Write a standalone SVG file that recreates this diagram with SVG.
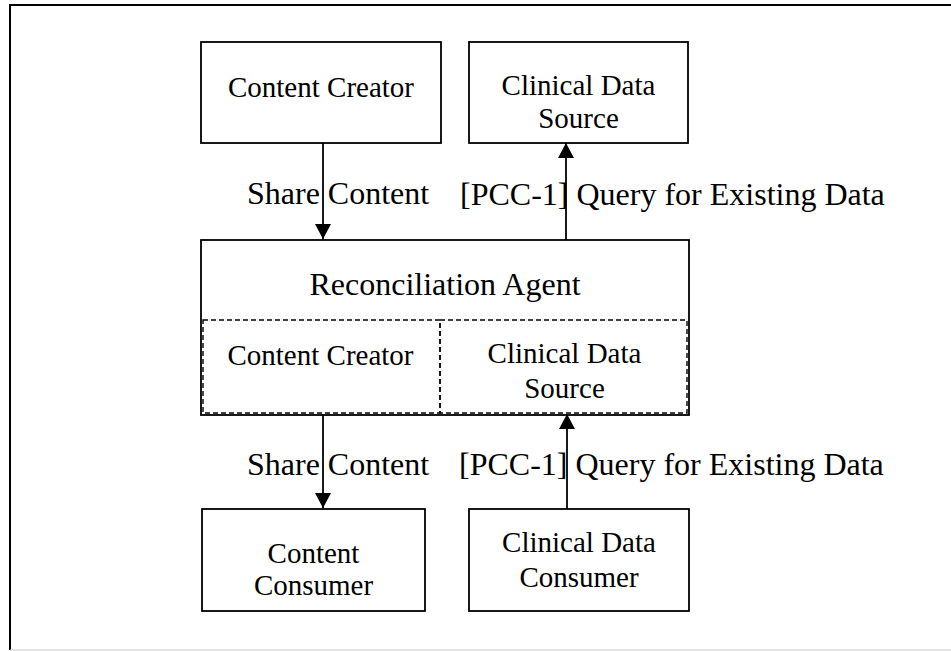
<svg xmlns="http://www.w3.org/2000/svg" width="951" height="651" viewBox="0 0 951 651">
<defs>
<style>
text{font-family:"Liberation Serif","Times New Roman",serif;fill:#000}
.n{font-size:29px;text-anchor:middle}
.big{font-size:32px;text-anchor:middle}
.lbl{font-size:32px}
.box{fill:#fff;stroke:#000;stroke-width:1.8}
.dash{fill:none;stroke:#000;stroke-width:1.4;stroke-dasharray:5,3}
.conn{stroke:#000;stroke-width:1.8;fill:none}
</style>
<marker id="ah" viewBox="0 0 15 16" refX="15" refY="8" markerWidth="15" markerHeight="16" markerUnits="userSpaceOnUse" orient="auto">
<path d="M0,0 L15,8 L0,16 Z" fill="#000"/>
</marker>
</defs>
<rect width="951" height="651" fill="#fff"/>
<path d="M10,650 V5 H951" fill="none" stroke="#000" stroke-width="2"/>
<line x1="10" y1="650" x2="951" y2="650" stroke="#ccc" stroke-width="1"/>

<g id="content-creator">
<rect class="box" x="201" y="42" width="240" height="101"/>
<text class="n" x="321" y="97">Content Creator</text>
</g>
<g id="clinical-data-source">
<rect class="box" x="469" y="42" width="219" height="101"/>
<text class="n" x="578.5" y="95">Clinical Data</text>
<text class="n" x="578.5" y="128">Source</text>
</g>
<g id="reconciliation-agent">
<rect class="box" x="201" y="240" width="488" height="175"/>
<text class="big" x="445" y="295">Reconciliation Agent</text>
<rect class="dash" x="203" y="320" width="237" height="93"/>
<rect class="dash" x="440" y="320" width="247" height="93"/>
<text class="n" x="320.5" y="365">Content Creator</text>
<text class="n" x="564.5" y="363">Clinical Data</text>
<text class="n" x="564.5" y="398">Source</text>
</g>
<g id="content-consumer">
<rect class="box" x="202" y="509" width="223" height="102"/>
<text class="n" x="313.5" y="563">Content</text>
<text class="n" x="313.5" y="595">Consumer</text>
</g>
<g id="clinical-data-consumer">
<rect class="box" x="469" y="509" width="220" height="102"/>
<text class="n" x="579" y="552">Clinical Data</text>
<text class="n" x="579" y="587">Consumer</text>
</g>

<g id="connectors">
<line class="conn" x1="323" y1="143" x2="323" y2="239" marker-end="url(#ah)"/>
<line class="conn" x1="566" y1="240" x2="566" y2="143" marker-end="url(#ah)"/>
<line class="conn" x1="323" y1="415" x2="323" y2="508" marker-end="url(#ah)"/>
<line class="conn" x1="567" y1="509" x2="567" y2="414" marker-end="url(#ah)"/>
<text class="lbl" x="247" y="204">Share Content</text>
<text class="lbl" x="460" y="205">[PCC-1] Query for Existing Data</text>
<text class="lbl" x="247" y="475">Share Content</text>
<text class="lbl" x="459" y="475">[PCC-1] Query for Existing Data</text>
</g>
</svg>
